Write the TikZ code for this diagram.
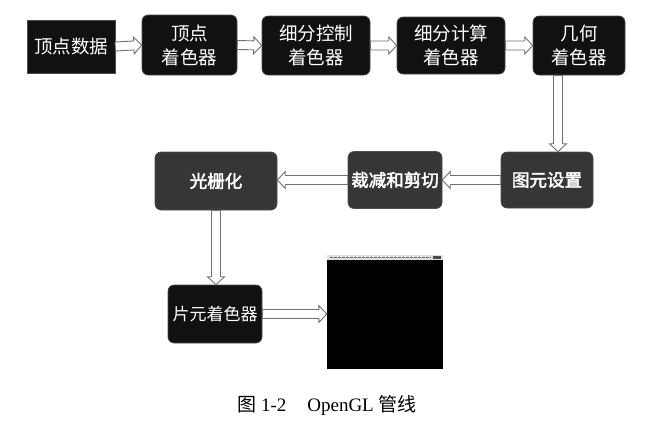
\documentclass[tikz,border=0pt]{standalone}
\usepackage{fontspec}
\setmainfont{Liberation Serif}
\newfontfamily\cjk{Noto Sans CJK SC}
\newfontfamily\cjkb[FakeBold=2.5]{Noto Sans CJK SC}
\usetikzlibrary{calc}
\definecolor{boxblack}{HTML}{111111}
\definecolor{boxgray}{HTML}{363636}
\definecolor{arrline}{HTML}{707070}
\tikzset{
  stage/.style={draw=black!70, line width=0.6bp, rounded corners=6bp, fill=boxblack,
    text=white, align=center, inner sep=0pt,
    font=\cjk\fontsize{18.5bp}{24bp}\selectfont},
  stagegray/.style={stage, fill=boxgray, font=\cjkb\fontsize{17.5bp}{23bp}\selectfont},
  barrow/.style={draw=arrline, fill=white, line width=0.9bp, line join=miter,
    to path={let \p1=(\tikztostart), \p2=(\tikztotarget),
      \n1={veclen(\x2-\x1,\y2-\y1)},
      \n2={(\x2-\x1)/\n1}, \n3={(\y2-\y1)/\n1} in
      ({\x1-4.5*\n3},{\y1+4.5*\n2})
      -- ({\x2-8*\n2-4.5*\n3},{\y2-8*\n3+4.5*\n2})
      -- ({\x2-8*\n2-8.5*\n3},{\y2-8*\n3+8.5*\n2})
      -- (\p2)
      -- ({\x2-8*\n2+8.5*\n3},{\y2-8*\n3-8.5*\n2})
      -- ({\x2-8*\n2+4.5*\n3},{\y2-8*\n3-4.5*\n2})
      -- ({\x1+4.5*\n3},{\y1-4.5*\n2}) -- cycle}}
}
\begin{document}
\begin{tikzpicture}[x=1bp,y=-1bp]
\useasboundingbox (0,0) rectangle (657,430);
% row 1
\node[stage, rounded corners=0pt, minimum width=88bp, minimum height=53bp] (vd) at (71,46.5) {顶点数据};
\node[stage, minimum width=95bp, minimum height=60bp] (vs) at (189.5,45) {顶点\\着色器};
\node[stage, minimum width=108bp, minimum height=59bp] (tcs) at (316,45.5) {细分控制\\着色器};
\node[stage, minimum width=108bp, minimum height=57bp] (tes) at (451,45.5) {细分计算\\着色器};
\node[stage, minimum width=92bp, minimum height=59bp] (gs) at (579,45.5) {几何\\着色器};
% row 2
\node[stagegray, minimum width=92bp, minimum height=56bp] (ps) at (547,180) {图元设置};
\node[stagegray, minimum width=94bp, minimum height=57bp] (cl) at (395,180) {裁减和剪切};
\node[stagegray, minimum width=122bp, minimum height=58bp] (ra) at (216,181) {光栅化};
% row 3
\node[stage, font=\cjk\fontsize{17bp}{23bp}\selectfont, minimum width=94bp, minimum height=58bp] (fs) at (215,314) {片元着色器};
\node[fill=black, minimum width=116bp, minimum height=114bp, inner sep=0pt] (out) at (385,312) {};
\fill[black!12] (out.north west) rectangle ([yshift=-5bp]out.north east);
\draw[black!60, line width=0.6bp, dash pattern=on 3bp off 1bp] ([xshift=3bp,yshift=-2.5bp]out.north west) -- ([xshift=-12bp,yshift=-2.5bp]out.north east);
\fill[black!70] ([xshift=-10bp,yshift=-1bp]out.north east) rectangle ([xshift=-2bp,yshift=-4bp]out.north east);
% arrows
\path[barrow] (vd.east) to (vs.west);
\path[barrow] (vs.east) to (tcs.west);
\path[barrow] (tcs.east) to (tes.west);
\path[barrow] (tes.east) to (gs.west);
\path[barrow] ([xshift=-21bp]gs.south) to ([xshift=-21bp]gs.south |- ps.north);
\path[barrow] (ps.west) to (cl.east);
\path[barrow] (cl.west) to (cl.west -| ra.east);
\path[barrow] (ra.south) to (ra.south |- fs.north);
\path[barrow] (fs.east) to (fs.east -| out.west);
% caption
\node[font=\fontsize{19bp}{22bp}\selectfont, inner sep=0pt] (cap) at (327,405)
  {{\cjk 图}\hspace{0.25em}1-2\hspace{1.1em}OpenGL\hspace{0.25em}{\cjk 管线}};
\end{tikzpicture}
\end{document}
